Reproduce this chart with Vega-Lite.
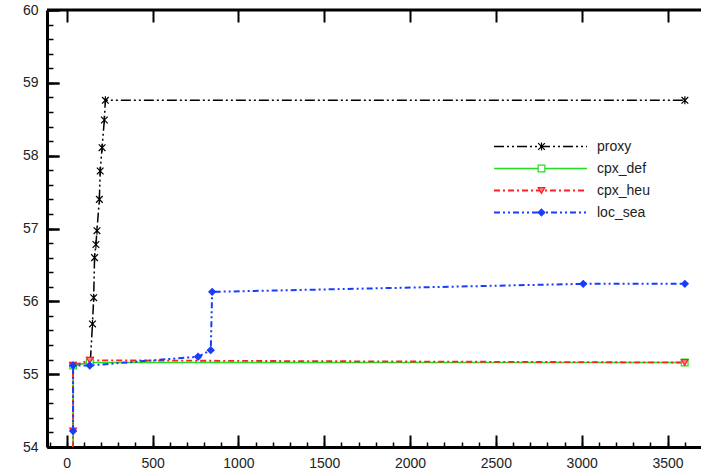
{
  "$schema": "https://vega.github.io/schema/vega-lite/v6.json",
  "width": 654,
  "height": 437,
  "autosize": {"type": "none"},
  "padding": {"left": 47, "top": 10, "right": 0, "bottom": 25},
  "config": {
    "view": {"stroke": null},
    "font": "Liberation Sans",
    "axis": {"title": null, "labelFont": "Liberation Sans", "labelFontSize": 14, "labelColor": "#222222", "domainColor": "#000000", "tickColor": "#000000"},
    "legend": {"labelFont": "Liberation Sans", "labelFontSize": 14, "labelColor": "#222222"}
  },
  "data": {
    "values": [
      {"series": "proxy", "x": 138, "y": 55.19},
      {"series": "proxy", "x": 150, "y": 55.69},
      {"series": "proxy", "x": 157, "y": 56.05},
      {"series": "proxy", "x": 162, "y": 56.6},
      {"series": "proxy", "x": 170, "y": 56.78},
      {"series": "proxy", "x": 176, "y": 56.97},
      {"series": "proxy", "x": 190, "y": 57.4},
      {"series": "proxy", "x": 195, "y": 57.79},
      {"series": "proxy", "x": 206, "y": 58.11},
      {"series": "proxy", "x": 219, "y": 58.49},
      {"series": "proxy", "x": 225, "y": 58.76},
      {"series": "proxy", "x": 3601, "y": 58.76},
      {"series": "cpx_def", "x": 37, "y": 53.8},
      {"series": "cpx_def", "x": 37, "y": 55.12},
      {"series": "cpx_def", "x": 134, "y": 55.16},
      {"series": "cpx_def", "x": 3600, "y": 55.16},
      {"series": "cpx_heu", "x": 37, "y": 53.8},
      {"series": "cpx_heu", "x": 37, "y": 54.22},
      {"series": "cpx_heu", "x": 37, "y": 55.12},
      {"series": "cpx_heu", "x": 134, "y": 55.19},
      {"series": "cpx_heu", "x": 3600, "y": 55.16},
      {"series": "loc_sea", "x": 37, "y": 54.22},
      {"series": "loc_sea", "x": 37, "y": 55.12},
      {"series": "loc_sea", "x": 134, "y": 55.12},
      {"series": "loc_sea", "x": 765, "y": 55.24},
      {"series": "loc_sea", "x": 839, "y": 55.33},
      {"series": "loc_sea", "x": 847, "y": 56.13},
      {"series": "loc_sea", "x": 3009, "y": 56.24},
      {"series": "loc_sea", "x": 3601, "y": 56.24}
    ]
  },
  "layer": [
    {
      "data": {"values": [{"x0": -115, "x1": 3695, "top": 60}]},
      "mark": {"type": "rule", "color": "#000000", "strokeWidth": 3},
      "encoding": {
        "x": {"field": "x0", "type": "quantitative", "scale": {"domain": [-115, 3695], "nice": false, "zero": false},
          "axis": {"orient": "top", "offset": -437, "values": [0, 500, 1000, 1500, 2000, 2500, 3000, 3500], "ticks": true, "tickSize": 12, "tickWidth": 2, "tickColor": "#000000", "tickOpacity": 1, "labels": false, "domain": false, "grid": false, "zindex": 2}},
        "x2": {"field": "x1"},
        "y": {"field": "top", "type": "quantitative", "scale": {"domain": [54, 60], "nice": false, "zero": false},
          "axis": {"orient": "right", "offset": -654, "values": [54, 55, 56, 57, 58, 59, 60], "ticks": true, "tickSize": 12, "tickWidth": 2, "tickColor": "#000000", "tickOpacity": 1, "labels": false, "domain": false, "grid": false, "zindex": 2}}
      }
    },
    {
      "mark": {"type": "line", "clip": true},
      "encoding": {
        "x": {"field": "x", "type": "quantitative", "scale": {"domain": [-115, 3695], "nice": false, "zero": false},
          "axis": {"orient": "bottom", "values": [0, 500, 1000, 1500, 2000, 2500, 3000, 3500], "format": "d", "ticks": false, "domainWidth": 3, "labelPadding": 9, "labelFlush": false, "labelOverlap": false,
            "grid": true, "gridColor": "#000000", "gridOpacity": 1, "gridDash": [12, 2000], "gridWidth": 2}},
        "y": {"field": "y", "type": "quantitative", "scale": {"domain": [54, 60], "nice": false, "zero": false},
          "axis": {"orient": "left", "values": [54, 55, 56, 57, 58, 59, 60], "format": "d", "ticks": false, "domainWidth": 3, "labelPadding": 9, "labelFlush": false, "labelOverlap": false,
            "grid": true, "gridColor": "#000000", "gridOpacity": 1, "gridDash": [12, 2000], "gridWidth": 2}},
        "color": {"field": "series", "type": "nominal",
          "scale": {"domain": ["proxy", "cpx_def", "cpx_heu", "loc_sea"], "range": ["#000000", "#22dd22", "#ff2020", "#1a3cff"]},
          "legend": {"orient": "none", "legendX": 446, "legendY": 128.5, "title": null, "symbolType": "stroke", "symbolSize": 8649, "symbolStrokeWidth": 2, "labelOffset": 9, "clipHeight": 16, "rowPadding": 6}},
        "strokeDash": {"field": "series", "type": "nominal",
          "scale": {"domain": ["proxy", "cpx_def", "cpx_heu", "loc_sea"], "range": [[10, 3, 2, 3, 2, 3], [1, 0], [6, 3, 2, 3], [6, 3, 2, 3, 2, 3]]},
          "legend": {"orient": "none", "legendX": 446, "legendY": 128.5, "title": null, "symbolType": "stroke", "symbolSize": 8649, "symbolStrokeWidth": 2, "labelOffset": 9, "clipHeight": 16, "rowPadding": 6}},
        "strokeWidth": {"field": "series", "type": "nominal",
          "scale": {"domain": ["proxy", "cpx_def", "cpx_heu", "loc_sea"], "range": [1.5, 2, 1.5, 1.5]},
          "legend": {"orient": "none", "legendX": 446, "legendY": 128.5, "title": null, "symbolType": "stroke", "symbolSize": 8649, "labelOffset": 9, "clipHeight": 16, "rowPadding": 6}},
        "order": {"value": null}
      }
    },
    {
      "mark": {"type": "point", "size": 45, "strokeWidth": 1.2, "opacity": 1, "clip": true},
      "encoding": {
        "x": {"field": "x", "type": "quantitative", "scale": {"domain": [-115, 3695], "nice": false, "zero": false},
          "axis": {"orient": "top", "offset": -437, "values": [-100, 0, 100, 200, 300, 400, 500, 600, 700, 800, 900, 1000, 1100, 1200, 1300, 1400, 1500, 1600, 1700, 1800, 1900, 2000, 2100, 2200, 2300, 2400, 2500, 2600, 2700, 2800, 2900, 3000, 3100, 3200, 3300, 3400, 3500, 3600], "ticks": true, "tickSize": 5, "tickWidth": 1.5, "tickColor": "#000000", "tickOpacity": 1, "labels": false, "domain": false, "grid": false, "zindex": 2}},
        "y": {"field": "y", "type": "quantitative", "scale": {"domain": [54, 60], "nice": false, "zero": false},
          "axis": {"orient": "right", "offset": -654, "values": [54, 54.2, 54.4, 54.6, 54.8, 55, 55.2, 55.4, 55.6, 55.8, 56, 56.2, 56.4, 56.6, 56.8, 57, 57.2, 57.4, 57.6, 57.8, 58, 58.2, 58.4, 58.6, 58.8, 59, 59.2, 59.4, 59.6, 59.8, 60], "ticks": true, "tickSize": 6, "tickWidth": 1.5, "tickColor": "#000000", "tickOpacity": 1, "labels": false, "domain": false, "grid": false, "zindex": 2}},
        "shape": {"field": "series", "type": "nominal", "sort": null,
          "scale": {"range": ["M-1,-1L1,1M-1,1L1,-1M0,-1.2L0,1.2", "square", "triangle-down", "diamond"]},
          "legend": {"orient": "none", "legendX": 487.5, "legendY": 128.5, "title": null, "labelExpr": "''", "symbolSize": 45, "symbolStrokeWidth": 1.2, "clipHeight": 16, "rowPadding": 6}},
        "stroke": {"field": "series", "type": "nominal", "sort": null,
          "scale": {"range": ["#000000", "#22dd22", "#ff2020", "#1a3cff"]},
          "legend": {"orient": "none", "legendX": 487.5, "legendY": 128.5, "title": null, "labelExpr": "''", "symbolSize": 45, "symbolStrokeWidth": 1.2, "clipHeight": 16, "rowPadding": 6}},
        "fill": {"field": "series", "type": "nominal", "sort": null,
          "scale": {"range": ["transparent", "#ffffff", "#ff8080", "#1a3cff"]},
          "legend": {"orient": "none", "legendX": 487.5, "legendY": 128.5, "title": null, "labelExpr": "''", "symbolSize": 45, "symbolStrokeWidth": 1.2, "clipHeight": 16, "rowPadding": 6}}
      }
    }
  ],
  "resolve": {"axis": {"x": "independent", "y": "independent"}}
}
